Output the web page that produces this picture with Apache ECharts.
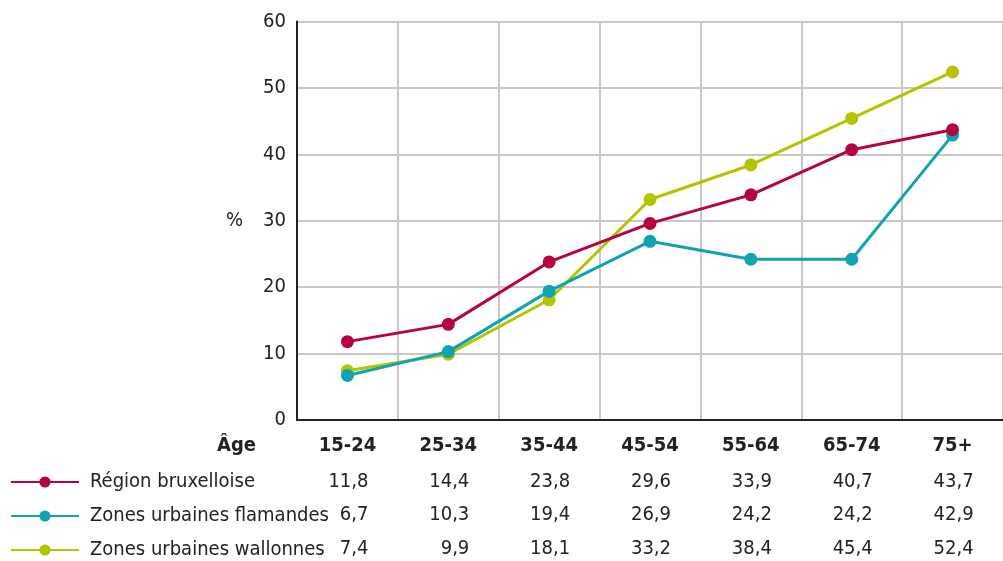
<!DOCTYPE html>
<html>
<head>
<meta charset="utf-8">
<script src="https://cdn.jsdelivr.net/npm/echarts@6/dist/echarts.min.js"></script>
<style>
  html, body { margin: 0; padding: 0; background: #fff; }
  #chart { width: 1003px; height: 561px; }
</style>
</head>
<body>
<div id="chart"></div>
<script>
// Age groups and shares (%) per area
const ageGroups = ['15-24', '25-34', '35-44', '45-54', '55-64', '65-74', '75+'];
const bruxelles = [11.8, 14.4, 23.8, 29.6, 33.9, 40.7, 43.7];
const flamandes = [6.7, 10.3, 19.4, 26.9, 24.2, 24.2, 42.9];
const wallonnes = [7.4, 9.9, 18.1, 33.2, 38.4, 45.4, 52.4];
const seriesNames = ['Région bruxelloise', 'Zones urbaines flamandes', 'Zones urbaines wallonnes'];
const seriesColors = ['#b4063e', '#12a3b0', '#b3c400'];
const yTicks = [0, 10, 20, 30, 40, 50, 60];

const FONT = '"Liberation Sans Narrow", "DejaVu Sans Condensed", "Noto Sans", sans-serif';
const FS = 20;

const chart = echarts.init(document.getElementById('chart'), null, { renderer: 'canvas' });

const allData = [bruxelles, flamandes, wallonnes];

const option = {
  animation: false,
  backgroundColor: '#ffffff',
  textStyle: { fontFamily: FONT },
  grid: { left: 297, top: 21.5, width: 710, height: 398.5, containLabel: false },
  legend: {
    orient: 'vertical',
    left: 5,
    top: 467,
    height: 130,
    itemWidth: 68,
    itemHeight: 14,
    itemGap: 14,
    textStyle: { fontFamily: FONT, fontSize: FS, color: '#222', padding: [0, 0, 0, 6] },
    data: seriesNames
  },
  xAxis: {
    type: 'category',
    data: ageGroups,
    boundaryGap: true,
    axisLine: { show: true, lineStyle: { color: '#222', width: 2 } },
    axisTick: { show: false },
    splitLine: { show: true, lineStyle: { color: '#c8c8c8', width: 2 } },
    axisLabel: {
      margin: 16,
      fontFamily: FONT, fontSize: FS, fontWeight: 'bold', color: '#222'
    }
  },
  yAxis: {
    type: 'value',
    min: yTicks[0],
    max: yTicks[yTicks.length - 1],
    interval: 10,
    name: '%',
    nameLocation: 'middle',
    nameRotate: 0,
    nameGap: 54,
    nameTextStyle: { fontFamily: FONT, fontSize: FS, color: '#222' },
    axisLine: { show: true, lineStyle: { color: '#222', width: 2 } },
    axisTick: { show: false },
    splitLine: { show: true, lineStyle: { color: '#c8c8c8', width: 2 } },
    axisLabel: { margin: 11, fontFamily: FONT, fontSize: FS, color: '#222' }
  },
  series: seriesNames.map((name, i) => ({
    name: name,
    type: 'line',
    data: allData[i],
    color: seriesColors[i],
    symbol: 'circle',
    symbolSize: 13,
    lineStyle: { width: 3, color: seriesColors[i] },
    itemStyle: { color: seriesColors[i] },
    z: 3 + (i === 0 ? 2 : i === 1 ? 1 : 0)
  }))
};

chart.setOption(option);

// Data table under the axis: one row per series, values right-aligned under each age group
const rowY = [482, 515, 549];
const fmt = v => v.toFixed(1).replace('.', ',');
const tableTexts = [];
tableTexts.push({
  type: 'text',
  x: 256, y: 446,
  style: { text: 'Âge', fontFamily: FONT, fontSize: FS, fontWeight: 'bold', fill: '#222', align: 'right', verticalAlign: 'middle' }
});
allData.forEach((values, r) => {
  values.forEach((v, c) => {
    const px = chart.convertToPixel({ xAxisIndex: 0 }, ageGroups[c]);
    tableTexts.push({
      type: 'text',
      x: px + 21, y: rowY[r],
      style: { text: fmt(v), fontFamily: FONT, fontSize: FS, fill: '#222', align: 'right', verticalAlign: 'middle' }
    });
  });
});
chart.setOption({ graphic: tableTexts });
</script>
</body>
</html>
